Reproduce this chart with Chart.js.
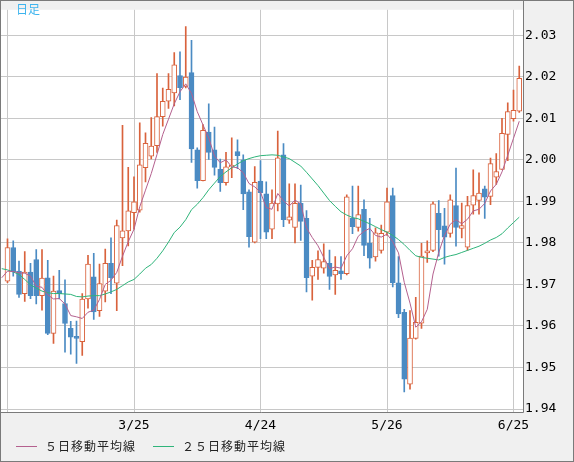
<!DOCTYPE html>
<html>
<head>
<meta charset="utf-8">
<script src="https://cdn.jsdelivr.net/npm/chart.js@4.4.1/dist/chart.umd.min.js"></script>
<style>
  html, body { margin: 0; padding: 0; background: #f0f0f0; }
</style>
</head>
<body>
<canvas id="chart" width="574" height="462"></canvas>
<script>
// daily candles, index 0 = first gridline
const opens = [
  1.9708, 1.9789, 1.9732, 1.9678, 1.9730, 1.9760, 1.9673, 1.9716, 1.9582, 1.9685,
  1.9654, 1.9594, 1.9575, 1.9562, 1.9665, 1.9718, 1.9637, 1.9684, 1.9751, 1.9703,
  1.9812, 1.9829, 1.9873, 1.9879, 1.9981, 2.0009, 2.0034, 2.0104, 2.0141, 2.0161,
  2.0203, 2.0177, 2.0210, 2.0024, 1.9950, 2.0067, 2.0024, 1.9977, 1.9945, 1.9983,
  2.0020, 2.0000, 1.9923, 1.9802, 1.9949, 1.9918, 1.9833, 1.9894, 2.0012, 1.9855,
  1.9837, 1.9895, 1.9859, 1.9720, 1.9741, 1.9739, 1.9751, 1.9723, 1.9733, 1.9726,
  1.9859, 1.9837, 1.9881, 1.9799, 1.9766, 1.9782, 1.9826, 1.9914, 1.9704, 1.9633,
  1.9460, 1.9570, 1.9607, 1.9776, 1.9782, 1.9871, 1.9841, 1.9823, 1.9890, 1.9835,
  1.9790, 1.9891, 1.9902, 1.9930, 1.9912, 1.9958, 1.9977, 2.0061, 2.0099, 2.0117
];
const highs = [
  1.9810, 1.9805, 1.9756, 1.9779, 1.9751, 1.9784, 1.9784, 1.9758, 1.9720, 1.9734,
  1.9711, 1.9611, 1.9612, 1.9678, 1.9770, 1.9775, 1.9749, 1.9785, 1.9812, 1.9855,
  2.0083, 1.9982, 1.9959, 2.0089, 2.0065, 2.0102, 2.0208, 2.0173, 2.0208, 2.0258,
  2.0260, 2.0321, 2.0288, 2.0029, 2.0085, 2.0135, 2.0079, 2.0002, 2.0018, 2.0053,
  2.0048, 2.0012, 1.9928, 1.9984, 1.9998, 1.9947, 1.9928, 2.0069, 2.0039, 1.9942,
  1.9942, 1.9939, 1.9878, 1.9758, 1.9781, 1.9798, 1.9783, 1.9767, 1.9767, 1.9916,
  1.9937, 1.9937, 1.9904, 1.9859, 1.9836, 1.9843, 1.9932, 1.9932, 1.9767, 1.9640,
  1.9637, 1.9669, 1.9799, 1.9805, 1.9899, 1.9902, 1.9883, 1.9916, 1.9980, 1.9896,
  1.9912, 1.9976, 1.9969, 1.9937, 2.0004, 2.0015, 2.0100, 2.0137, 2.0168, 2.0226
];
const lows = [
  1.9704, 1.9720, 1.9669, 1.9659, 1.9666, 1.9653, 1.9638, 1.9579, 1.9558, 1.9665,
  1.9537, 1.9532, 1.9510, 1.9529, 1.9643, 1.9616, 1.9623, 1.9658, 1.9678, 1.9637,
  1.9745, 1.9793, 1.9833, 1.9874, 1.9947, 2.0002, 2.0018, 2.0081, 2.0124, 2.0130,
  2.0145, 2.0173, 1.9994, 1.9932, 1.9949, 2.0001, 1.9963, 1.9924, 1.9939, 1.9957,
  1.9979, 1.9880, 1.9790, 1.9800, 1.9810, 1.9810, 1.9810, 1.9877, 1.9839, 1.9847,
  1.9800, 1.9806, 1.9682, 1.9662, 1.9712, 1.9727, 1.9688, 1.9676, 1.9712, 1.9723,
  1.9822, 1.9828, 1.9769, 1.9739, 1.9756, 1.9775, 1.9818, 1.9694, 1.9620, 1.9441,
  1.9448, 1.9568, 1.9594, 1.9753, 1.9779, 1.9768, 1.9749, 1.9814, 1.9792, 1.9812,
  1.9782, 1.9869, 1.9869, 1.9859, 1.9892, 1.9941, 1.9977, 1.9998, 2.0093, 2.0114
];
const closes = [
  1.9789, 1.9730, 1.9676, 1.9730, 1.9673, 1.9673, 1.9715, 1.9582, 1.9684, 1.9678,
  1.9606, 1.9573, 1.9570, 1.9665, 1.9749, 1.9634, 1.9702, 1.9751, 1.9716, 1.9842,
  1.9829, 1.9877, 1.9899, 1.9988, 2.0040, 2.0033, 2.0104, 2.0141, 2.0170, 2.0229,
  2.0174, 2.0199, 2.0026, 1.9950, 2.0071, 2.0018, 1.9982, 1.9945, 1.9983, 1.9987,
  2.0010, 1.9918, 1.9815, 1.9946, 1.9921, 1.9826, 1.9896, 2.0005, 1.9856, 1.9863,
  1.9895, 1.9852, 1.9716, 1.9741, 1.9760, 1.9755, 1.9719, 1.9734, 1.9726, 1.9911,
  1.9839, 1.9868, 1.9794, 1.9763, 1.9824, 1.9823, 1.9899, 1.9704, 1.9629, 1.9472,
  1.9571, 1.9609, 1.9768, 1.9781, 1.9894, 1.9832, 1.9814, 1.9904, 1.9837, 1.9842,
  1.9890, 1.9914, 1.9920, 1.9910, 1.9991, 1.9972, 2.0064, 2.0116, 2.0119, 2.0196
];

// moving averages, first value sits one day before candle 0
const maStart = -1;
const ma5 = [
  1.9716,
  1.9732, 1.9731, 1.9728, 1.9727, 1.9720, 1.9696, 1.9693, 1.9675, 1.9665, 1.9666,
  1.9653, 1.9625, 1.9622, 1.9618, 1.9633, 1.9638, 1.9664, 1.9700, 1.9710, 1.9729,
  1.9768, 1.9803, 1.9833, 1.9887, 1.9927, 1.9967, 2.0013, 2.0061, 2.0098, 2.0135,
  2.0164, 2.0183, 2.0160, 2.0116, 2.0084, 2.0053, 2.0009, 1.9993, 2.0000, 1.9983,
  1.9981, 1.9969, 1.9943, 1.9935, 1.9922, 1.9885, 1.9881, 1.9919, 1.9901, 1.9889,
  1.9903, 1.9894, 1.9836, 1.9813, 1.9793, 1.9765, 1.9738, 1.9742, 1.9739, 1.9769,
  1.9786, 1.9816, 1.9828, 1.9835, 1.9818, 1.9814, 1.9821, 1.9803, 1.9776, 1.9705,
  1.9655, 1.9597, 1.9610, 1.9640, 1.9725, 1.9777, 1.9818, 1.9845, 1.9856, 1.9846,
  1.9857, 1.9877, 1.9881, 1.9895, 1.9925, 1.9941, 1.9971, 2.0011, 2.0052, 2.0093
];
const ma25 = [
  1.9738,
  1.9735, 1.9730, 1.9724, 1.9712, 1.9699, 1.9691, 1.9684, 1.9680, 1.9678, 1.9678,
  1.9677, 1.9676, 1.9671, 1.9670, 1.9672, 1.9673, 1.9673, 1.9677, 1.9682, 1.9688,
  1.9697, 1.9706, 1.9712, 1.9725, 1.9739, 1.9748, 1.9763, 1.9781, 1.9802, 1.9825,
  1.9838, 1.9856, 1.9880, 1.9893, 1.9909, 1.9928, 1.9944, 1.9960, 1.9971, 1.9981,
  1.9990, 1.9998, 2.0003, 2.0007, 2.0010, 2.0011, 2.0012, 2.0011, 2.0007, 2.0003,
  1.9994, 1.9985, 1.9970, 1.9954, 1.9938, 1.9920, 1.9902, 1.9888, 1.9875, 1.9867,
  1.9861, 1.9858, 1.9852, 1.9846, 1.9839, 1.9832, 1.9826, 1.9818, 1.9808, 1.9796,
  1.9782, 1.9769, 1.9765, 1.9763, 1.9761, 1.9759, 1.9765, 1.9769, 1.9772, 1.9777,
  1.9782, 1.9787, 1.9792, 1.9799, 1.9807, 1.9813, 1.9822, 1.9836, 1.9849, 1.9862
];

// x gridlines sit on these candle indexes
const tickIndex = [0, 22, 44, 66, 88];
const tickLabels = ['', '3/25', '4/24', '5/26', '6/25'];
const yTicks = [1.94, 1.95, 1.96, 1.97, 1.98, 1.99, 2.00, 2.01, 2.02, 2.03];

const upColor = '#d9623c';
const downColor = '#4b8bc3';
const ma5Color = '#b4608e';
const ma25Color = '#2fb47a';

const isUp = closes.map((c, i) => c >= opens[i]);
const wickData = closes.map((c, i) => ({ x: i, y: [lows[i], highs[i]] }));
const bodyData = closes.map((c, i) => ({ x: i, y: [opens[i], closes[i]] }));
const ma5Data = ma5.map((v, k) => ({ x: k + maStart, y: v }));
const ma25Data = ma25.map((v, k) => ({ x: k + maStart, y: v }));

// Background, frame, legend and title
const framePlugin = {
    id: 'frame',
    beforeDraw(chart) {
        const { ctx, chartArea: a } = chart;
        ctx.save();
        ctx.fillStyle = '#f0f0f0';
        ctx.fillRect(0, 0, chart.width, chart.height);
        ctx.fillStyle = '#ffffff';
        ctx.fillRect(a.left, a.top, a.right - a.left, a.bottom - a.top);
        ctx.restore();
    },
    afterDraw(chart) {
        const { ctx, chartArea: a } = chart;
        ctx.save();
        ctx.strokeStyle = '#7a7a7a';
        ctx.lineWidth = 1;
        ctx.beginPath();
        ctx.moveTo(Math.round(a.right) + 0.5, 0);
        ctx.lineTo(Math.round(a.right) + 0.5, Math.round(a.bottom) + 0.5);
        ctx.lineTo(0, Math.round(a.bottom) + 0.5);
        ctx.stroke();
        ctx.strokeRect(0.5, 0.5, chart.width - 1, chart.height - 1);

        ctx.fillStyle = '#3db4ee';
        ctx.font = '12px "Noto Sans CJK JP"';
        ctx.textBaseline = 'top';
        ctx.fillText('日足', 16, 3);

        // legend
        const ly = 446.5;
        ctx.lineWidth = 1;
        ctx.strokeStyle = ma5Color;
        ctx.beginPath(); ctx.moveTo(16, ly); ctx.lineTo(37, ly); ctx.stroke();
        ctx.strokeStyle = ma25Color;
        ctx.beginPath(); ctx.moveTo(153, ly); ctx.lineTo(174, ly); ctx.stroke();
        ctx.fillStyle = '#222';
        ctx.textBaseline = 'middle';
        ctx.letterSpacing = '1px';
        ctx.fillText('５日移動平均線', 45, ly);
        ctx.fillText('２５日移動平均線', 182, ly);
        ctx.restore();
    }
};

const tickFont = { family: 'DejaVu Sans Mono', size: 13 };

new Chart(document.getElementById('chart'), {
    type: 'bar',
    data: {
        datasets: [
            { type: 'line', data: ma5Data, borderColor: ma5Color, borderWidth: 1, pointRadius: 0, tension: 0, order: 0 },
            { type: 'line', data: ma25Data, borderColor: ma25Color, borderWidth: 1, pointRadius: 0, tension: 0, order: 1 },
            {
                type: 'bar', data: bodyData,
                backgroundColor: isUp.map(u => u ? '#ffffff' : downColor),
                borderColor: isUp.map(u => u ? upColor : downColor),
                borderWidth: 1, borderSkipped: false,
                barThickness: 5, grouped: false, order: 2
            },
            {
                type: 'bar', data: wickData,
                backgroundColor: isUp.map(u => u ? upColor : downColor),
                borderWidth: 0, barThickness: 1, grouped: false, order: 3
            }
        ]
    },
    options: {
        responsive: false,
        animation: false,
        events: [],
        layout: { padding: { left: 1, top: 1, right: 1, bottom: 1 } },
        plugins: { legend: { display: false }, tooltip: { enabled: false } },
        scales: {
            x: {
                type: 'linear',
                min: -1.1304,
                max: 89.652,
                offset: false,
                grid: { color: '#c8c8c8', lineWidth: 1, drawTicks: false, offset: false },
                border: { display: false },
                ticks: {
                    font: tickFont, color: '#000', padding: 6, maxRotation: 0, autoSkip: false,
                    callback: v => tickLabels[tickIndex.indexOf(v)]
                },
                afterBuildTicks: s => { s.ticks = tickIndex.map(v => ({ value: v })); },
                afterFit: s => { s.height = 49; }
            },
            y: {
                position: 'right',
                min: 1.93928,
                max: 2.03613,
                grid: { color: '#c8c8c8', lineWidth: 1, drawTicks: false },
                border: { display: false },
                ticks: {
                    font: tickFont, color: '#000', padding: 2,
                    callback: v => v.toFixed(2)
                },
                afterBuildTicks: s => { s.ticks = yTicks.map(v => ({ value: v })); },
                afterFit: s => { s.width = 50; }
            }
        }
    },
    plugins: [framePlugin]
});
</script>
</body>
</html>
